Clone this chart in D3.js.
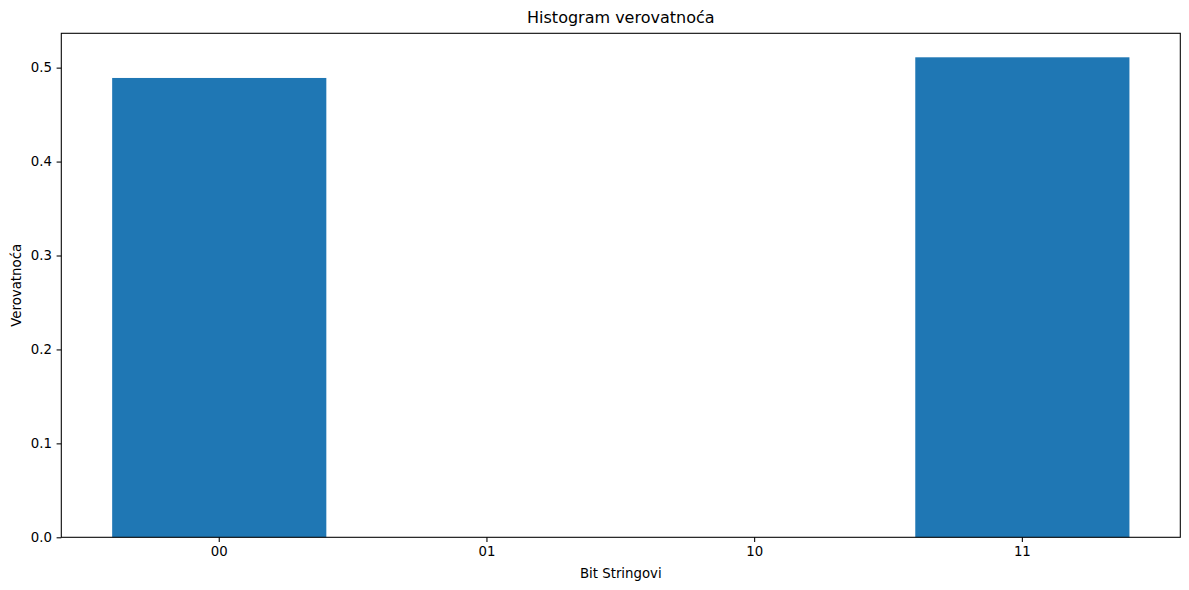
<!DOCTYPE html>
<html>
<head>
<meta charset="utf-8">
<script src="https://cdn.jsdelivr.net/npm/d3@7"></script>
<style>
    body { margin: 0; background: #fff; }
    text { font-family: "DejaVu Sans", sans-serif; fill: #000; }
</style>
</head>
<body>
<div id="chart"></div>
<script>
// Data
const categories = ["00", "01", "10", "11"];
const probabilities = [0.489, 0, 0, 0.511];
const yTicks = [0.0, 0.1, 0.2, 0.3, 0.4, 0.5];

const data = categories.map((c, i) => ({ type: c, value: probabilities[i] }));

const width = 1189;
const height = 590;
const margin = { top: 33.3, right: 8.7, bottom: 52.7, left: 61.3 };
const g_width = width - margin.left - margin.right;
const g_height = height - margin.top - margin.bottom;

const svg = d3
    .select("#chart")
    .append("svg")
    .attr("width", width)
    .attr("height", height);

const g = svg.append("g").attr("transform", `translate(${margin.left},${margin.top})`);

// Scales (matplotlib-like: bar width 0.8, 5% margins)
const x = d3
    .scaleBand()
    .domain(categories)
    .range([0, g_width])
    .paddingInner(0.2)
    .paddingOuter(0.19);

const y = d3
    .scaleLinear()
    .domain([0, d3.max(probabilities) * 1.05])
    .range([g_height, 0]);

// Bars
g.selectAll(".bar")
    .data(data)
    .enter()
    .append("rect")
    .attr("class", "bar")
    .attr("x", (d) => x(d.type))
    .attr("y", (d) => y(d.value))
    .attr("width", x.bandwidth())
    .attr("height", (d) => g_height - y(d.value))
    .attr("fill", "#1f77b4");

// Axes
const xAxis = g
    .append("g")
    .attr("transform", `translate(0,${g_height})`)
    .call(d3.axisBottom(x).tickSizeOuter(0).tickSize(4.7).tickPadding(4.7));

const yAxis = g
    .append("g")
    .call(
        d3.axisLeft(y)
            .tickValues(yTicks)
            .tickFormat(d3.format(".1f"))
            .tickSizeOuter(0)
            .tickSize(4.7)
            .tickPadding(4.7)
    );

[xAxis, yAxis].forEach((a) => {
    a.select(".domain").remove();
    a.selectAll(".tick line").attr("stroke", "#000").attr("stroke-width", 1.07);
    a.selectAll(".tick text").style("font-size", "13.3px").style("font-family", "DejaVu Sans");
});

// Frame (spines)
g.append("rect")
    .attr("x", 0)
    .attr("y", 0)
    .attr("width", g_width)
    .attr("height", g_height)
    .attr("fill", "none")
    .attr("stroke", "#000")
    .attr("stroke-width", 1.07);

// Title and labels
svg.append("text")
    .attr("x", margin.left + g_width / 2)
    .attr("y", margin.top - 10)
    .attr("text-anchor", "middle")
    .style("font-size", "16px")
    .text("Histogram verovatnoća");

svg.append("text")
    .attr("x", margin.left + g_width / 2)
    .attr("y", margin.top + g_height + 41)
    .attr("text-anchor", "middle")
    .style("font-size", "13.3px")
    .text("Bit Stringovi");

svg.append("text")
    .attr("transform", `translate(21,${margin.top + g_height / 2}) rotate(-90)`)
    .attr("text-anchor", "middle")
    .style("font-size", "13.3px")
    .text("Verovatnoća");
</script>
</body>
</html>
